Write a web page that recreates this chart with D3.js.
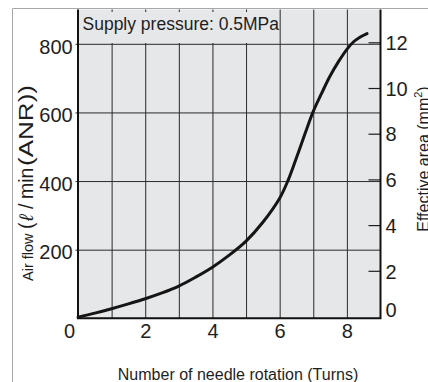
<!DOCTYPE html>
<html><head><meta charset="utf-8">
<script src="https://cdn.jsdelivr.net/npm/d3@7"></script>
<style>
html,body{margin:0;padding:0;background:#fff;}
svg{display:block;font-family:"Liberation Sans",Arial,Helvetica,sans-serif;}
</style></head>
<body><svg id="c" width="428" height="382"></svg>
<script>
// ---- data ----
const turns = [0, 0.5, 1, 1.5, 2, 2.5, 3, 3.5, 4, 4.5, 5, 5.5, 6, 6.25, 6.5, 6.75, 7, 7.25, 7.5, 7.75, 8, 8.2, 8.4, 8.6];
const airFlow = [3, 15, 28, 42, 57, 74, 94, 120, 149, 184, 225, 280, 350, 402, 468, 537, 603, 656, 706, 748, 784, 806, 820, 830];
const xTicks = [0, 2, 4, 6, 8];
const xGrid = [1, 2, 3, 4, 5, 6, 7, 8];
const yTicks = [200, 400, 600, 800];
const y2Ticks = [0, 2, 4, 6, 8, 10, 12];
const y2Marks = [2, 4, 6, 8, 10, 12];
const labelNote = "Supply pressure: 0.5MPa";
const xTitle = "Number of needle rotation (Turns)";

// ---- layout ----
const svg = d3.select("#c");
const x = d3.scaleLinear().domain([0, 9]).range([78, 380.5]);
const y = d3.scaleLinear().domain([0, 900]).range([318.3, 9.5]);
const y2 = d3.scaleLinear().domain([0, 12]).range([316.5, 42.3]);
const ink = "#1e1e1e";

// outer frame
svg.append("path").attr("d", "M12.5,382 V8.5 H428")
  .attr("fill", "none").attr("stroke", "#a8a8a8").attr("stroke-width", 1);

// plot background
svg.append("rect").attr("x", x(0)).attr("y", y(900))
  .attr("width", x(9) - x(0)).attr("height", y(0) - y(900)).attr("fill", "#e6e7e9");

// vertical grid
const gx = svg.append("g").attr("transform", `translate(0,${y(0)})`)
  .call(d3.axisBottom(x).tickValues(xGrid).tickSize(-(y(0) - y(900))).tickFormat(""));
gx.select(".domain").remove();
gx.selectAll("line").attr("stroke", "#2a2a2a").attr("stroke-width", 1);

// label box covering grid
svg.append("rect").attr("x", x(0) + 1).attr("y", 12)
  .attr("width", 199).attr("height", y(800) - 12 - 0.8).attr("fill", "#e6e7e9");

// horizontal grid
const gy = svg.append("g").attr("transform", `translate(${x(0)},0)`)
  .call(d3.axisLeft(y).tickValues(yTicks).tickSize(-(x(9) - x(0))).tickFormat(""));
gy.select(".domain").remove();
gy.selectAll("line").attr("stroke", "#2a2a2a").attr("stroke-width", 1).attr("x1", -2.5);

// right inner ticks
const gr = svg.append("g").attr("transform", `translate(${x(9)},0)`)
  .call(d3.axisRight(y2).tickValues(y2Marks).tickSize(-12).tickFormat(""));
gr.select(".domain").remove();
gr.selectAll("line").attr("stroke", ink).attr("stroke-width", 1.2);

// axes lines
svg.append("path")
  .attr("d", `M${x(0)},${y(900)} V${y(0)} H${x(9)} V${y(900)}`)
  .attr("fill", "none").attr("stroke", "#111").attr("stroke-width", 2);

// curve
svg.append("path").datum(turns.map((t, i) => [t, airFlow[i]]))
  .attr("d", d3.line().x(d => x(d[0])).y(d => y(d[1])).curve(d3.curveCatmullRom.alpha(0.5)))
  .attr("fill", "none").attr("stroke", "#151515").attr("stroke-width", 3)
  .attr("stroke-linecap", "round");

// tick labels
const styleText = sel => sel.selectAll("text").attr("font-size", 20).attr("fill", ink)
  .attr("font-family", "'Liberation Sans',Arial,sans-serif");

const lx = svg.append("g").attr("transform", `translate(0,${y(0)})`)
  .call(d3.axisBottom(x).tickValues(xTicks).tickSize(0).tickPadding(5.5).tickFormat(d3.format("d")));
lx.select(".domain").remove(); styleText(lx);
lx.selectAll(".tick").filter(d => d === 0).select("text").attr("x", -9);

const ly = svg.append("g").attr("transform", `translate(${x(0)},0)`)
  .call(d3.axisLeft(y).tickValues(yTicks).tickSize(0).tickPadding(5.3).tickFormat(d3.format("d")));
ly.select(".domain").remove(); styleText(ly);
ly.selectAll("text").attr("dy", "0.46em");

const ry = svg.append("g").attr("transform", `translate(${x(9)},0)`)
  .call(d3.axisRight(y2).tickValues(y2Ticks).tickSize(0).tickPadding(5).tickFormat(d3.format("d")));
ry.select(".domain").remove(); styleText(ry);
ry.selectAll("text").attr("dy", "0.36em");
ry.selectAll(".tick").filter(d => d === 0).select("text").attr("y", -7.5);

// note
svg.append("text").attr("x", 82.5).attr("y", 30).attr("font-size", 17.5).attr("fill", ink)
  .text(labelNote);

// x title
svg.append("text").attr("x", 238).attr("y", 380).attr("text-anchor", "middle")
  .attr("font-size", 16).attr("fill", ink).text(xTitle);

// left title (rotated; position along axis = -screenY)
const lt = svg.append("g").attr("transform", "translate(32.5,0) rotate(-90)").attr("fill", ink);
lt.append("text").attr("x", -281).attr("font-size", 14.5).text("Air flow");
lt.append("text").attr("x", -229).attr("font-size", 19.5).text("(");
lt.append("text").attr("x", -221).attr("font-size", 19.5).attr("font-style", "italic").text("ℓ");
lt.append("text").attr("x", -209).attr("font-size", 19.5).text("/");
lt.append("text").attr("x", -199).attr("font-size", 19.5).text("min");
lt.append("text").attr("x", -166).attr("font-size", 19.5)
  .attr("textLength", 81).attr("lengthAdjust", "spacingAndGlyphs").text("(ANR))");

// right title
const rt = svg.append("text").attr("transform", "translate(428.5,159) rotate(-90)")
  .attr("text-anchor", "middle").attr("fill", ink).attr("font-size", 16);
rt.append("tspan").text("Effective area (mm");
rt.append("tspan").attr("font-size", 11).attr("dy", -7).text("2");
rt.append("tspan").attr("dy", 7).text(")");
</script></body></html>
